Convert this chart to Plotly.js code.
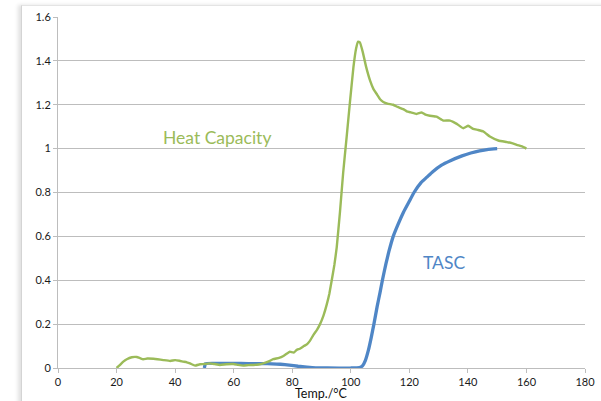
<!DOCTYPE html>
<html>
<head>
<meta charset="utf-8">
<script src="https://cdn.plot.ly/plotly-3.0.1.min.js"></script>
<style>
  html, body { margin: 0; padding: 0; background: #ffffff; overflow: hidden; }
  #frame { position: absolute; left: 21px; top: 5px; width: 620px; height: 420px;
           border-left: 1px solid #d4d4d4; border-top: 1px solid #e4e4e4;
           box-shadow: -3px 0 4px rgba(0,0,0,0.12); background: #ffffff; }
  #chart { position: absolute; left: 0; top: 0; width: 601px; height: 401px; }
</style>
</head>
<body>
<div id="frame"></div>
<div id="chart"></div>
<script>
// Heat capacity curve (green)
const hcTemp = [20,21,22.3,23.5,25.2,26.9,28,29.1,30.5,32.6,34,36,38.3,40,41.5,42.8,44,45.1,46.8,48.5,50,51.9,53.5,55.3,57.5,59.9,61.5,63.3,65,66.7,68.5,70.1,72,73.5,75.5,77,78.2,79.2,80.5,81.5,82.6,84,85,86.1,87.2,88.5,89.5,90.7,91.8,92.7,93.5,94.4,95.2,96.3,97.4,98.6,99.7,100.9,101.8,102.5,103.1,104.1,105.2,106.6,107.8,108.8,110,111.1,112.5,114.5,116,117.9,119.1,120.5,122.5,124.2,125.5,127,129.3,131.6,133.9,136.2,138.4,140.1,141.8,143.5,145.3,147.5,150.4,153.2,155,156.7,158.5,160];
const hcValues = [0,0.012,0.029,0.04,0.049,0.05,0.045,0.04,0.043,0.042,0.04,0.036,0.032,0.036,0.033,0.029,0.026,0.021,0.011,0.017,0.018,0.021,0.018,0.014,0.017,0.018,0.014,0.011,0.013,0.014,0.016,0.021,0.03,0.04,0.046,0.055,0.066,0.074,0.07,0.082,0.088,0.1,0.108,0.125,0.15,0.175,0.2,0.24,0.29,0.34,0.4,0.47,0.55,0.71,0.89,1.055,1.21,1.37,1.455,1.488,1.485,1.44,1.375,1.31,1.27,1.25,1.225,1.213,1.205,1.2,1.19,1.18,1.17,1.165,1.158,1.165,1.155,1.15,1.146,1.128,1.128,1.113,1.093,1.104,1.09,1.085,1.078,1.055,1.037,1.03,1.025,1.017,1.01,1.0];

// TASC curve (blue)
const tascTemp = [50,50.4,55,60,65,70,73,76,79,82,85,88,92,100,103,104,105,106,107,107.9,109,110,110.8,112,113,114.5,116,118,120,121.6,124,126,128,131,134,138,141,144,147,150];
const tascValues = [0,0.02,0.021,0.021,0.02,0.02,0.019,0.017,0.013,0.008,0.004,0.001,0,0,0.002,0.01,0.035,0.08,0.14,0.2,0.28,0.345,0.4,0.475,0.53,0.6,0.65,0.71,0.76,0.8,0.845,0.87,0.895,0.925,0.945,0.967,0.98,0.99,0.997,1.0];

const xTicks = [0,20,40,60,80,100,120,140,160,180];
const yTicks = [0,0.2,0.4,0.6,0.8,1,1.2,1.4,1.6];
const yTickText = ['0','0.2','0.4','0.6','0.8','1','1.2','1.4','1.6'];

const green = '#9bbb59';
const blue = '#4f86c6';
const fontFam = 'Lato, "Open Sans", sans-serif';

const traces = [
  { x: tascTemp, y: tascValues, type: 'scatter', mode: 'lines', name: 'TASC',
    line: { color: blue, width: 3.3, shape: 'spline', smoothing: 0.4 } },
  { x: hcTemp, y: hcValues, type: 'scatter', mode: 'lines', name: 'Heat Capacity',
    line: { color: green, width: 2.4, shape: 'spline', smoothing: 0.3 } }
];

const layout = {
  width: 601, height: 401,
  margin: { l: 58, r: 16, t: 17, b: 33, pad: 0 },
  paper_bgcolor: 'rgba(0,0,0,0)',
  plot_bgcolor: 'rgba(0,0,0,0)',
  showlegend: false,
  font: { family: fontFam, size: 11, color: '#1a1a1a' },
  xaxis: {
    range: [0, 180], tickvals: xTicks, ticktext: xTicks.map(String),
    showgrid: false, zeroline: false,
    showline: true, linecolor: '#bdbdbd', linewidth: 1,
    ticks: 'outside', ticklen: 4, tickcolor: '#bdbdbd', tickwidth: 1,
    tickfont: { family: fontFam, size: 11, color: '#1a1a1a' },
    fixedrange: true
  },
  yaxis: {
    range: [0, 1.6], tickvals: yTicks, ticktext: yTickText,
    showgrid: true, gridcolor: '#bdbdbd', gridwidth: 1,
    zeroline: false,
    showline: true, linecolor: '#bdbdbd', linewidth: 1,
    ticks: 'outside', ticklen: 4, tickcolor: '#bdbdbd', tickwidth: 1,
    tickfont: { family: fontFam, size: 11, color: '#1a1a1a' },
    fixedrange: true
  },
  annotations: [
    { text: 'Temp./°C', xref: 'paper', yref: 'paper', x: 0.5, y: -0.072,
      xanchor: 'center', yanchor: 'middle', showarrow: false,
      font: { family: fontFam, size: 12.5, color: '#111111' } },
    { text: 'Heat Capacity', xref: 'x', yref: 'y', x: 54.3, y: 1.049,
      xanchor: 'center', yanchor: 'middle', showarrow: false,
      font: { family: fontFam, size: 17.5, color: green } },
    { text: 'TASC', xref: 'x', yref: 'y', x: 131.8, y: 0.479,
      xanchor: 'center', yanchor: 'middle', showarrow: false,
      font: { family: fontFam, size: 17.5, color: blue } }
  ]
};

Plotly.newPlot('chart', traces, layout, { staticPlot: true, displayModeBar: false });
</script>
</body>
</html>
